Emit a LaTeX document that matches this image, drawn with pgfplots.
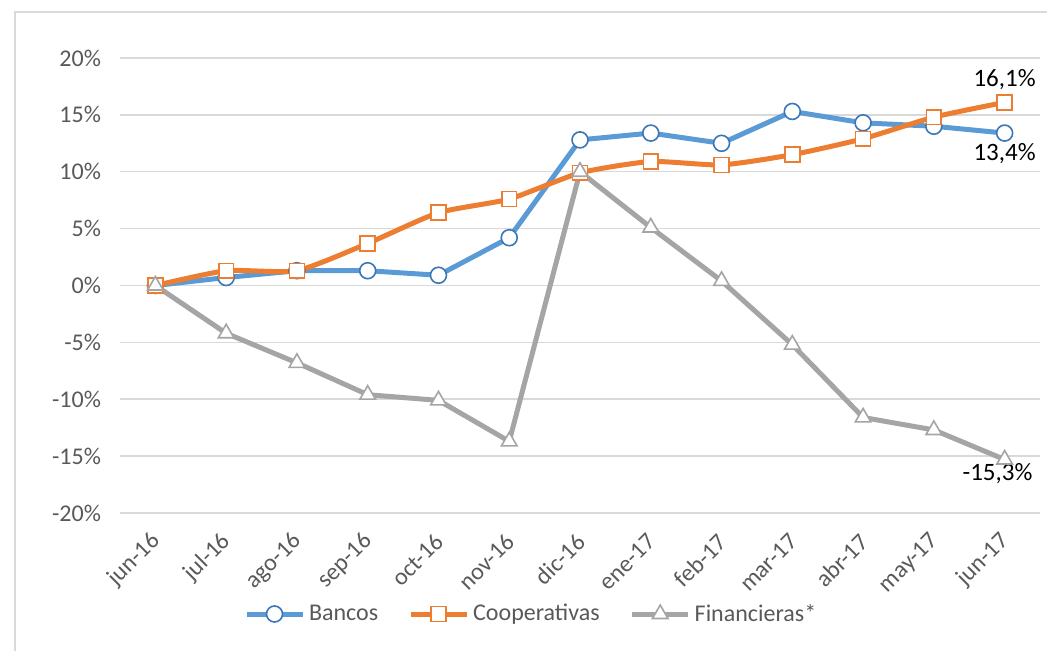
\documentclass[border=0pt]{standalone}
\usepackage{pgfplots}
\pgfplotsset{compat=1.18}
\usepackage{fontspec}
\setmainfont{Carlito}
\definecolor{bancos}{HTML}{5B9BD5}
\definecolor{bancosedge}{HTML}{3A76B8}
\definecolor{coop}{HTML}{ED7D31}
\definecolor{finan}{HTML}{A5A5A5}
\definecolor{gridc}{HTML}{D9D9D9}
\definecolor{labc}{HTML}{595959}
\begin{document}
\begin{tikzpicture}
\useasboundingbox (0pt,0pt) rectangle (523.5pt,325.5pt);
\draw[gridc, line width=0.75pt] (7.5pt,-5pt) -- (7.5pt,319.5pt) -- (535pt,319.5pt);
\begin{axis}[
    at={(60pt,69pt)}, anchor=south west,
    scale only axis, width=460pt, height=227.5pt,
    xmin=-0.5, xmax=12.5, ymin=-20, ymax=20,
    axis line style={draw=none}, major tick length=0pt,
    ytick={-20,-15,...,20},
    yticklabels={-20\%,-15\%,-10\%,-5\%,0\%,5\%,10\%,15\%,20\%},
    ymajorgrids, grid style={gridc, line width=0.75pt},
    xtick={0,...,12},
    xticklabels={jun-16,jul-16,ago-16,sep-16,oct-16,nov-16,dic-16,ene-17,feb-17,mar-17,abr-17,may-17,jun-17},
    x tick label style={xshift=3pt, yshift=-10pt, rotate=45, anchor=east, font=\fontsize{12}{14}\selectfont, text=labc},
    y tick label style={xshift=-6pt, font=\fontsize{12}{14}\selectfont, text=labc},
    legend columns=3,
    legend style={at={(0.448,-0.222)}, anchor=center, draw=none, fill=none,
      font=\fontsize{12}{14}\selectfont, text=labc,
      /tikz/every even column/.append style={column sep=13pt}},
    legend image code/.code={\draw[mark repeat=2,mark phase=2] plot coordinates {(0pt,0pt) (14pt,0pt) (28pt,0pt)};},
    every axis plot/.append style={line width=2.5pt},
  ]
  \addplot[color=bancos, mark=*, mark size=4pt, mark options={draw=bancosedge, fill=white, line width=0.8pt, solid}]
    coordinates {(0,0) (1,0.7) (2,1.3) (3,1.3) (4,0.9) (5,4.2) (6,12.8) (7,13.4) (8,12.5) (9,15.3) (10,14.3) (11,14.0) (12,13.4)};
  \addlegendentry{Bancos}
  \addplot[color=coop, smooth, tension=0.35, mark=square*, mark size=3.7pt, mark options={draw=coop, fill=white, line width=0.8pt, solid}]
    coordinates {(0,0) (1,1.3) (2,1.3) (3,3.7) (4,6.4) (5,7.6) (6,9.9) (7,10.9) (8,10.6) (9,11.5) (10,12.9) (11,14.8) (12,16.1)};
  \addlegendentry{Cooperativas}
  \addplot[color=finan, mark=triangle*, mark size=4.5pt, mark options={draw=finan, fill=white, line width=0.8pt, solid}]
    coordinates {(0,0) (1,-4.2) (2,-6.8) (3,-9.6) (4,-10.1) (5,-13.7) (6,10.0) (7,5.1) (8,0.4) (9,-5.2) (10,-11.6) (11,-12.7) (12,-15.3)};
  \addlegendentry{Financieras*}
  \node[font=\fontsize{12.5}{14}\selectfont] at (axis cs:12,18.1) {16,1\%};
  \node[font=\fontsize{12.5}{14}\selectfont] at (axis cs:12,11.6) {13,4\%};
  \node[font=\fontsize{12.5}{14}\selectfont] at (axis cs:11.9,-16.5) {-15,3\%};
\end{axis}
\end{tikzpicture}
\end{document}
